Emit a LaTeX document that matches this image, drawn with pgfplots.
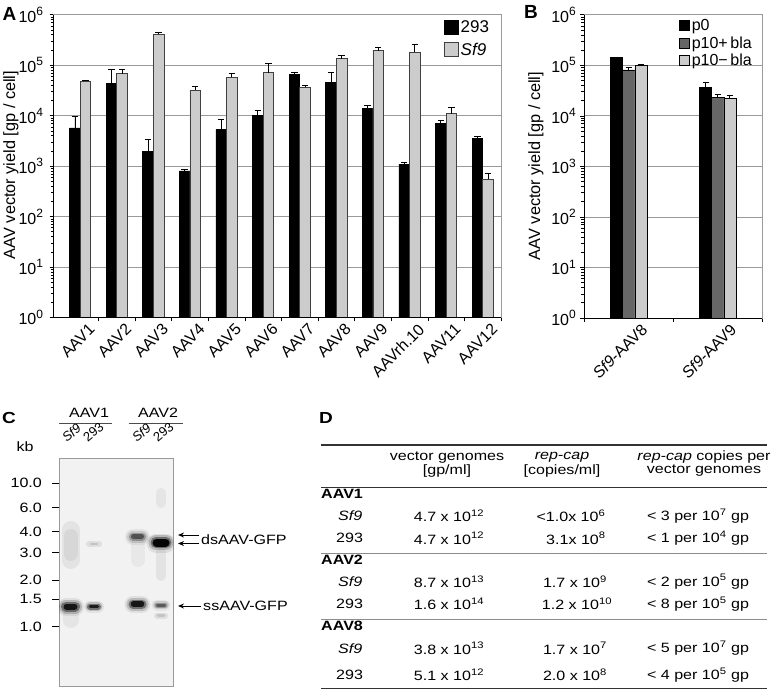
\documentclass[border=0pt]{standalone}
\usepackage{pgfplots}
\pgfplotsset{compat=1.18}
\usepackage{fontspec}
\setmainfont{Liberation Sans}
\usetikzlibrary{arrows.meta}

\newcommand{\fs}[1]{\fontsize{#1bp}{#1bp}\selectfont}
\newcommand{\sps}[1]{\raisebox{0.42em}{\fontsize{12bp}{12bp}\selectfont #1}}
\definecolor{lgray}{HTML}{CCCCCC}
\definecolor{mgray}{HTML}{666666}
\definecolor{gridgray}{HTML}{9A9A9A}

\pgfplotsset{
  sqA/.style={legend image code/.code={\draw[##1] (0bp,-7bp) rectangle (14bp,7bp);}},
  sqB/.style={legend image code/.code={\draw[##1] (0bp,-5bp) rectangle (10bp,5bp);}},
  gb/.style={black, line cap=round, line width=#1},
}

\begin{document}
\begin{tikzpicture}
\useasboundingbox (0,0) rectangle (773bp,-690bp);

% ---------------- Panel A ----------------
\node[font=\bfseries\fs{19}] at (9.5bp,-14bp) {A};
\node[rotate=90, font=\fs{16.3}] at (11bp,-165bp) {AAV vector yield [gp / cell]};
\begin{axis}[
  scale only axis, anchor=south west,
  at={(53.5bp,-317.5bp)}, width=447.5bp, height=302.8bp,
  ymode=log, ymin=1, ymax=1e6, ybar=0pt, log origin=infty,
  xmin=-0.73, xmax=11.5, bar width=0.29,
  ytick={1,10,100,1000,10000,100000,1000000},
  yticklabels={10\sps{0},10\sps{1},10\sps{2},10\sps{3},10\sps{4},10\sps{5},10\sps{6}},
  minor ytick={2,3,4,5,6,7,8,9,20,30,40,50,60,70,80,90,200,300,400,500,600,700,800,900,2000,3000,4000,5000,6000,7000,8000,9000,2e4,3e4,4e4,5e4,6e4,7e4,8e4,9e4,2e5,3e5,4e5,5e5,6e5,7e5,8e5,9e5},
  ymajorgrids, major grid style={gridgray, line width=0.7bp},
  ytick pos=left, xtick pos=left,
  tick align=outside,
  major tick length=4bp, minor tick length=3bp,
  tick style={black, line width=0.6bp},
  axis line style={gridgray, line width=0.8bp},
  yticklabel style={font=\fs{16}, xshift=-3bp},
  xtick={0.5,1.5,2.5,3.5,4.5,5.5,6.5,7.5,8.5,9.5,10.5,11.5},
  xticklabels={},
  extra x ticks={0,1,2,3,4,5,6,7,8,9,10,11},
  extra x tick labels={AAV1,AAV2,AAV3,AAV4,AAV5,AAV6,AAV7,AAV8,AAV9,AAVrh.10,AAV11,AAV12},
  extra x tick style={major tick length=0pt,
       xticklabel style={rotate=45, anchor=north east, font=\fs{16}, inner sep=0bp, xshift=2bp, yshift=-9bp}},
  legend cell align=left,
  legend style={draw=none, fill=none, inner sep=0pt,
     at={(0.872,0.988)}, anchor=north west, font=\fs{17}, row sep=5bp},
  clip=false,
]
\addplot[fill=black, draw=black, line width=0.6bp, sqA,
   error bars/.cd, y dir=plus, y explicit,
   error bar style={black, line width=0.8bp},
   error mark options={black, rotate=90, mark size=3.2bp, line width=0.8bp}] coordinates {
 (0,5700) +- (0,4000)
 (1,44000) +- (0,37000)
 (2,1950) +- (0,1450)
 (3,800) +- (0,70)
 (4,5300) +- (0,3200)
 (5,10000) +- (0,2800)
 (6,65000) +- (0,8000)
 (7,45000) +- (0,28000)
 (8,13800) +- (0,2000)
 (9,1100) +- (0,80)
 (10,7050) +- (0,1150)
 (11,3600) +- (0,300)
};
\addlegendentry{293}
\addplot[fill=lgray, draw=black!75, line width=0.8bp, sqA,
   error bars/.cd, y dir=plus, y explicit,
   error bar style={black, line width=0.8bp},
   error mark options={black, rotate=90, mark size=3.2bp, line width=0.8bp}] coordinates {
 (0,48000) +- (0,2000)
 (1,68000) +- (0,14000)
 (2,410000) +- (0,40000)
 (3,32000) +- (0,6000)
 (4,57000) +- (0,11000)
 (5,71000) +- (0,35000)
 (6,36500) +- (0,3500)
 (7,134000) +- (0,19000)
 (8,193000) +- (0,27000)
 (9,181000) +- (0,79000)
 (10,11000) +- (0,3600)
 (11,552) +- (0,175)
};
\addlegendentry{\textit{Sf9}}
\draw[black, line width=0.9bp] (rel axis cs:0,1) -- (rel axis cs:0,0) -- (rel axis cs:1,0);
\end{axis}

% ---------------- Panel B ----------------
\node[font=\bfseries\fs{19}] at (531bp,-12bp) {B};
\node[rotate=90, font=\fs{16.3}] at (536bp,-166bp) {AAV vector yield [gp / cell]};
\begin{axis}[
  scale only axis, anchor=south west,
  at={(584.3bp,-318bp)}, width=178bp, height=303.3bp,
  ymode=log, ymin=1, ymax=1e6, ybar=0pt, log origin=infty,
  xmin=-0.5, xmax=1.5, bar width=0.135,
  ytick={1,10,100,1000,10000,100000,1000000},
  yticklabels={10\sps{0},10\sps{1},10\sps{2},10\sps{3},10\sps{4},10\sps{5},10\sps{6}},
  minor ytick={2,3,4,5,6,7,8,9,20,30,40,50,60,70,80,90,200,300,400,500,600,700,800,900,2000,3000,4000,5000,6000,7000,8000,9000,2e4,3e4,4e4,5e4,6e4,7e4,8e4,9e4,2e5,3e5,4e5,5e5,6e5,7e5,8e5,9e5},
  ymajorgrids, major grid style={gridgray, line width=0.7bp},
  ytick pos=left, xtick pos=left,
  tick align=outside,
  major tick length=4bp, minor tick length=3bp,
  tick style={black, line width=0.6bp},
  axis line style={gridgray, line width=0.8bp},
  yticklabel style={font=\fs{16}, xshift=-1bp},
  xtick={-0.5,0.5,1.5},
  xticklabels={},
  extra x ticks={0,1},
  extra x tick labels={\textit{Sf9}-AAV8,\textit{Sf9}-AAV9},
  extra x tick style={major tick length=0pt,
       xticklabel style={rotate=45, anchor=north east, font=\fs{16}, inner sep=0bp, xshift=5bp, yshift=-11bp}},
  legend cell align=left,
  legend style={draw=none, fill=none, inner sep=0pt,
     at={(0.532,0.992)}, anchor=north west, font=\fs{16}, row sep=0.5bp},
  clip=false,
]
\addplot[fill=black, draw=black, line width=0.6bp, sqB,
   error bars/.cd, y dir=plus, y explicit,
   error bar style={black, line width=0.8bp},
   error mark options={black, rotate=90, mark size=3.2bp, line width=0.8bp}] coordinates {
 (0,142000) +- (0,4000)
 (1,36000) +- (0,10000)
};
\addlegendentry{p0}
\addplot[fill=mgray, draw=black, line width=0.6bp, sqB,
   error bars/.cd, y dir=plus, y explicit,
   error bar style={black, line width=0.8bp},
   error mark options={black, rotate=90, mark size=3.2bp, line width=0.8bp}] coordinates {
 (0,81000) +- (0,8000)
 (1,23500) +- (0,3000)
};
\addlegendentry{p10+\,bla}
\addplot[fill=lgray, draw=black, line width=0.6bp, sqB,
   error bars/.cd, y dir=plus, y explicit,
   error bar style={black, line width=0.8bp},
   error mark options={black, rotate=90, mark size=3.2bp, line width=0.8bp}] coordinates {
 (0,100000) +- (0,4000)
 (1,22000) +- (0,3000)
};
\addlegendentry{p10−\,bla}
\draw[black, line width=0.9bp] (rel axis cs:0,1) -- (rel axis cs:0,0) -- (rel axis cs:1,0);
\end{axis}

% ---------------- Panel C (gel) ----------------
\begin{scope}[every node/.style={font=\fs{13.5}, xscale=1.19}]
\node[font=\bfseries\fs{16}] at (9bp,-418bp) {C};
\node at (25bp,-447bp) {kb};
\node at (89bp,-413bp) {AAV1};
\node at (158bp,-413bp) {AAV2};
\end{scope}
\draw[black!70, line width=0.8bp] (59bp,-423bp) -- (112bp,-423bp);
\draw[black!70, line width=0.8bp] (129bp,-423bp) -- (183bp,-423bp);
\begin{scope}[every node/.style={rotate=40, anchor=south west, font=\fs{13}, inner sep=0pt}]
\node at (67bp,-443bp) {\textit{Sf9}};
\node at (88bp,-443bp) {293};
\node at (137bp,-443bp) {\textit{Sf9}};
\node at (158bp,-443bp) {293};
\end{scope}

\begin{axis}[scale only axis, anchor=south west,
  at={(59bp,-686.7bp)}, width=114.3bp, height=228.4bp,
  xmin=59, xmax=173.3, ymin=-686.7, ymax=-458.3,
  axis line style={black!40, line width=0.8bp},
  axis background/.style={fill=black!5},
  xtick=\empty,
  ytick={-483,-507.7,-531.7,-552.7,-580,-599,-626.7},
  yticklabels={10.0,6.0,4.0,3.0,2.0,1.5,1.0},
  ytick pos=left, tick align=outside, major tick length=7bp,
  tick style={black, line width=0.9bp},
  yticklabel style={font=\fs{13.5}, xscale=1.19, xshift=-5bp},
  clip=true,
]
% faint smears
\addplot[gb=18bp, opacity=0.06] coordinates {(70.5,-530)(70.5,-560)};
\addplot[gb=14bp, opacity=0.05] coordinates {(70.5,-536)(70.5,-554)};
\addplot[gb=10bp, opacity=0.06] coordinates {(161,-552)(161,-576)};
\addplot[gb=10bp, opacity=0.05] coordinates {(161,-493)(161,-503)};
\addplot[gb=14bp, opacity=0.04] coordinates {(137.5,-544)(137.5,-560)};
\addplot[gb=16bp, opacity=0.05] coordinates {(70.5,-614)(70.5,-620)};
\addplot[gb=6bp, opacity=0.08] coordinates {(89,-544)(99,-544)};
\addplot[gb=2.5bp, opacity=0.12] coordinates {(91,-544)(97,-544)};
\addplot[gb=6bp, opacity=0.08] coordinates {(157,-615.5)(165,-615.5)};
\addplot[gb=3bp, opacity=0.12] coordinates {(158,-615.5)(164,-615.5)};
% dsAAV-GFP, lane 3
\addplot[gb=16bp, opacity=0.06] coordinates {(133,-537)(142,-537)};
\addplot[gb=12bp, opacity=0.12] coordinates {(133,-537)(142,-537)};
\addplot[gb=8bp, opacity=0.25] coordinates {(133,-536.5)(142,-536.5)};
\addplot[gb=5bp, opacity=0.45] coordinates {(133.5,-536.5)(141.5,-536.5)};
% dsAAV-GFP, lane 4
\addplot[gb=19bp, opacity=0.08] coordinates {(156,-543)(166,-543)};
\addplot[gb=15bp, opacity=0.18] coordinates {(156,-542.5)(166,-542.5)};
\addplot[gb=11bp, opacity=0.4] coordinates {(156,-542.5)(166,-542.5)};
\addplot[gb=8bp, opacity=0.95] coordinates {(156.5,-542.5)(165.5,-542.5)};
% ssAAV-GFP, lane 1
\addplot[gb=18bp, opacity=0.07] coordinates {(66,-607)(75,-607)};
\addplot[gb=14bp, opacity=0.18] coordinates {(66,-606.5)(75,-606.5)};
\addplot[gb=10bp, opacity=0.4] coordinates {(66,-606.5)(75,-606.5)};
\addplot[gb=6bp, opacity=0.8] coordinates {(66.5,-606.5)(74.5,-606.5)};
% ssAAV-GFP, lane 2
\addplot[gb=12bp, opacity=0.06] coordinates {(90,-606.5)(98,-606.5)};
\addplot[gb=9bp, opacity=0.16] coordinates {(90,-606.5)(98,-606.5)};
\addplot[gb=6bp, opacity=0.4] coordinates {(90,-606.5)(98,-606.5)};
\addplot[gb=3.5bp, opacity=0.75] coordinates {(90.5,-606.5)(97.5,-606.5)};
% ssAAV-GFP, lane 3
\addplot[gb=17bp, opacity=0.07] coordinates {(133,-604.5)(142,-604.5)};
\addplot[gb=13bp, opacity=0.16] coordinates {(133,-604)(142,-604)};
\addplot[gb=9bp, opacity=0.4] coordinates {(133,-604)(142,-604)};
\addplot[gb=5.5bp, opacity=0.8] coordinates {(133.5,-604)(141.5,-604)};
% ssAAV-GFP, lane 4
\addplot[gb=11bp, opacity=0.05] coordinates {(157,-605)(165,-605)};
\addplot[gb=8bp, opacity=0.12] coordinates {(157,-605)(165,-605)};
\addplot[gb=5bp, opacity=0.25] coordinates {(157,-605)(165,-605)};
\addplot[gb=3bp, opacity=0.4] coordinates {(157.5,-605)(164.5,-605)};
\end{axis}

\draw[-{Stealth[length=6bp,width=5bp]}, line width=1bp] (199bp,-535bp) -- (178bp,-535bp);
\draw[-{Stealth[length=6bp,width=5bp]}, line width=1bp] (199bp,-543.5bp) -- (178bp,-543.5bp);
\draw[-{Stealth[length=6bp,width=5bp]}, line width=1bp] (201bp,-606bp) -- (178bp,-606bp);
\begin{scope}[every node/.style={anchor=west, font=\fs{13.5}, xscale=1.19, inner sep=0pt}]
\node at (201bp,-539.5bp) {dsAAV-GFP};
\node at (203bp,-606bp) {ssAAV-GFP};
\end{scope}

% ---------------- Panel D (table) ----------------
\node[font=\bfseries\fs{16}, xscale=1.19] at (326bp,-418bp) {D};
\draw[black!80, line width=1.3bp] (321bp,-445bp) -- (767bp,-445bp);
\draw[black!80, line width=1.3bp] (321bp,-487.3bp) -- (767bp,-487.3bp);
\draw[black!45, line width=1bp] (321bp,-553.3bp) -- (767bp,-553.3bp);
\draw[black!45, line width=1bp] (321bp,-619.3bp) -- (767bp,-619.3bp);
\draw[black!80, line width=1.3bp] (321bp,-688.3bp) -- (767bp,-688.3bp);
\begin{scope}[every node/.style={font=\fs{13.5}, xscale=1.19, inner sep=0pt}]
\node at (447bp,-457.3bp) {vector genomes};
\node at (447bp,-471bp) {[gp/ml]};
\node at (562bp,-457.3bp) {\textit{rep-cap}};
\node at (562bp,-471bp) {[copies/ml]};
\node at (704bp,-457.3bp) {\textit{rep-cap} copies per};
\node at (704bp,-471bp) {vector genomes};
\node[anchor=west, font=\bfseries\fs{13.5}] at (321bp,-493.5bp) {AAV1};
\node[anchor=west, font=\bfseries\fs{13.5}] at (321bp,-559.5bp) {AAV2};
\node[anchor=west, font=\bfseries\fs{13.5}] at (321bp,-626bp) {AAV8};
\node[anchor=west] at (338bp,-516bp) {\textit{Sf9}};
\node[anchor=west] at (336bp,-538.3bp) {293};
\node[anchor=west] at (338bp,-581.7bp) {\textit{Sf9}};
\node[anchor=west] at (336bp,-604bp) {293};
\node[anchor=west] at (338bp,-648.3bp) {\textit{Sf9}};
\node[anchor=west] at (336bp,-675bp) {293};
\node at (449bp,-516bp) {4.7 x 10\textsuperscript{12}};
\node at (449bp,-538.3bp) {4.7 x 10\textsuperscript{12}};
\node at (449bp,-581.7bp) {8.7 x 10\textsuperscript{13}};
\node at (449bp,-604bp) {1.6 x 10\textsuperscript{14}};
\node at (449bp,-648.3bp) {3.8 x 10\textsuperscript{13}};
\node at (449bp,-675bp) {5.1 x 10\textsuperscript{12}};
\node at (571bp,-516bp) {\textless1.0x 10\textsuperscript{6}};
\node at (576bp,-538.3bp) {3.1x 10\textsuperscript{8}};
\node at (575bp,-581.7bp) {1.7 x 10\textsuperscript{9}};
\node at (577bp,-604bp) {1.2 x 10\textsuperscript{10}};
\node at (575bp,-648.3bp) {1.7 x 10\textsuperscript{7}};
\node at (575bp,-675bp) {2.0 x 10\textsuperscript{8}};
\node at (698bp,-516bp) {\textless\ 3 per 10\textsuperscript{7} gp};
\node at (698bp,-538.3bp) {\textless\ 1 per 10\textsuperscript{4} gp};
\node at (698bp,-581.7bp) {\textless\ 2 per 10\textsuperscript{5} gp};
\node at (698bp,-604bp) {\textless\ 8 per 10\textsuperscript{5} gp};
\node at (698bp,-648.3bp) {\textless\ 5 per 10\textsuperscript{7} gp};
\node at (698bp,-675bp) {\textless\ 4 per 10\textsuperscript{5} gp};
\end{scope}
\end{tikzpicture}
\end{document}
